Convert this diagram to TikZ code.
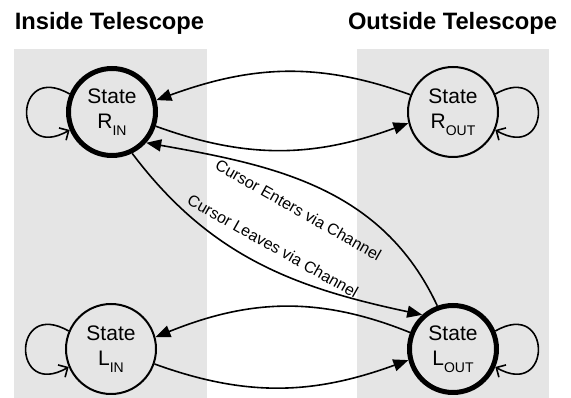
\documentclass[tikz,border=0pt]{standalone}
\usepackage{fontspec}
\setmainfont{Liberation Sans}
\usetikzlibrary{arrows.meta}
\definecolor{panel}{HTML}{E5E5E5}
\newcommand\lowidx[1]{\raisebox{-7pt}{\fontsize{14}{14}\selectfont #1}}
\tikzset{
  statebox/.style={circle, draw=black, line width=2pt, minimum size=90pt, inner sep=0pt,
    align=center, font=\fontsize{21}{25}\selectfont},
  startbox/.style={statebox, line width=5pt, minimum size=87pt},
  conn/.style={line width=1.6pt, -{Triangle[length=15pt,width=12pt]}},
  selfloop/.style={line width=1.6pt, -{Straight Barb[angle=90:10pt]}},
  title/.style={font=\fontsize{23.7}{28}\selectfont\bfseries, anchor=base},
  lbl/.style={font=\fontsize{16}{19}\selectfont, inner sep=0pt}
}
\begin{document}
\begin{tikzpicture}[x=1pt,y=1pt]
\useasboundingbox (0,0) rectangle (571,398);
\fill[panel] (14,0) rectangle (207,349);
\fill[panel] (357,0) rectangle (549,349);
\node[title] (tin) at (109.5,368) {Inside Telescope};
\node[title] (tout) at (452.5,368) {Outside Telescope};
\node[startbox] (rin) at (112,286) {State\\R\lowidx{IN}};
\node[statebox] (rout) at (453,286) {State\\R\lowidx{OUT}};
\node[statebox] (lin) at (111,49) {State\\L\lowidx{IN}};
\node[startbox] (lout) at (453,49) {State\\L\lowidx{OUT}};
% self loops
\draw[selfloop] (rin.157) .. controls +(150:66pt) and +(210:66pt) .. (rin.203);
\draw[selfloop] (lin.157) .. controls +(150:66pt) and +(210:66pt) .. (lin.203);
\draw[selfloop] (rout.23) .. controls +(30:66pt) and +(-30:66pt) .. (rout.-23);
\draw[selfloop] (lout.23) .. controls +(30:66pt) and +(-30:66pt) .. (lout.-23);
% transitions
\draw[conn] (rout.158) to[out=160,in=20] (rin.15);
\draw[conn] (rin.-18) to[out=-20,in=200] (rout.194);
\draw[conn] (lout.159) to[out=158,in=22] (lin.15);
\draw[conn] (lin.-19) to[out=-20,in=200] (lout.194);
\draw[conn] (lout.110) to[out=115,in=-10] (rin.-42);
\draw[conn] (rin.-64) to[out=-53,in=168] (lout.132);
\node[lbl, rotate=-29.5] (lenter) at (298.5,188) {Cursor Enters via Channel};
\node[lbl, rotate=-29.5] (lleave) at (273,152) {Cursor Leaves via Channel};
\end{tikzpicture}
\end{document}
